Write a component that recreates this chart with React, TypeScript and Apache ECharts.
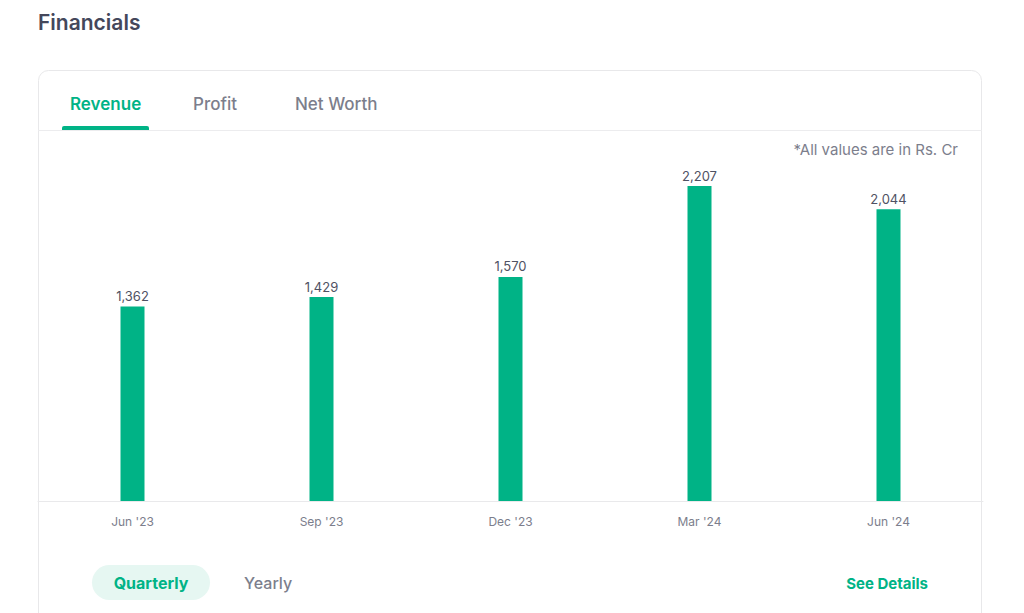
import React, { useEffect, useRef } from "react";
import * as echarts from "echarts";

const categories = ["Jun '23", "Sep '23", "Dec '23", "Mar '24", "Jun '24"];
const revenue = [1362, 1429, 1570, 2207, 2044];
const tabs = ["Revenue", "Profit", "Net Worth"];
const periods = ["Quarterly", "Yearly"];

const GREEN = "#00b386";
const DARK = "#44475b";
const GRAY = "#7c7e8c";
const FONT = "Inter, 'Noto Sans', sans-serif";

export default function App() {
  const ref = useRef<HTMLDivElement>(null);
  useEffect(() => {
    if (!ref.current) return;
    const chart = echarts.init(ref.current, undefined, { renderer: "svg" });
    chart.setOption({
      animation: false,
      backgroundColor: "#ffffff",
      textStyle: { fontFamily: FONT },
      grid: { left: 38, right: 41, top: 186, bottom: 112, containLabel: false },
      xAxis: {
        type: "category",
        data: categories,
        axisLine: { lineStyle: { color: "#e9e9eb", width: 1 } },
        axisTick: { show: false },
        axisLabel: { color: GRAY, fontSize: 12, margin: 14, fontFamily: FONT },
      },
      yAxis: {
        type: "value",
        min: 0,
        max: "dataMax",
        show: false,
        splitLine: { show: false },
      },
      series: [
        {
          type: "bar",
          data: revenue,
          barWidth: 24,
          itemStyle: { color: GREEN },
          label: {
            show: true,
            position: "top",
            distance: 4,
            color: "#4f5263",
            fontSize: 13,
            fontFamily: FONT,
            formatter: (p: any) => Number(p.value).toLocaleString("en-US"),
          },
        },
      ],
      graphic: [
        {
          type: "rect",
          z: -10,
          silent: true,
          shape: { x: 38.5, y: 70.5, width: 943, height: 600, r: 10 },
          style: { fill: "#ffffff", stroke: "#e8e8ea", lineWidth: 1 },
        },
        {
          type: "text",
          left: 38,
          top: 12,
          style: { text: "Financials", fontSize: 21, fontWeight: 600, fill: DARK, fontFamily: FONT },
        },
        {
          type: "text",
          left: 70,
          top: 95,
          style: { text: tabs[0], fontSize: 17, fontWeight: 600, fill: GREEN, fontFamily: FONT },
        },
        {
          type: "text",
          left: 193,
          top: 95,
          style: { text: tabs[1], fontSize: 17, fontWeight: 500, fill: GRAY, fontFamily: FONT },
        },
        {
          type: "text",
          left: 295,
          top: 95,
          style: { text: tabs[2], fontSize: 17, fontWeight: 500, fill: GRAY, fontFamily: FONT },
        },
        {
          type: "rect",
          shape: { x: 62, y: 126, width: 87, height: 4, r: [2, 2, 0, 0] },
          style: { fill: GREEN },
        },
        {
          type: "line",
          shape: { x1: 38, y1: 130.5, x2: 982, y2: 130.5 },
          style: { stroke: "#ececee", lineWidth: 1 },
        },
        {
          type: "text",
          right: 66,
          top: 142,
          style: { text: "*All values are in Rs. Cr", fontSize: 15, fill: GRAY, fontFamily: FONT },
        },
        {
          type: "rect",
          shape: { x: 92, y: 565, width: 118, height: 35, r: 17.5 },
          style: { fill: "#e6f7f2" },
        },
        {
          type: "text",
          x: 151,
          y: 582.5,
          style: {
            text: periods[0],
            fontSize: 16,
            fontWeight: 700,
            fill: GREEN,
            fontFamily: FONT,
            align: "center",
            verticalAlign: "middle",
          },
        },
        {
          type: "text",
          x: 244,
          y: 582.5,
          style: {
            text: periods[1],
            fontSize: 16,
            fontWeight: 500,
            fill: GRAY,
            fontFamily: FONT,
            verticalAlign: "middle",
          },
        },
        {
          type: "text",
          x: 928,
          y: 583,
          style: {
            text: "See Details",
            fontSize: 15,
            fontWeight: 700,
            fill: GREEN,
            fontFamily: FONT,
            align: "right",
            verticalAlign: "middle",
          },
        },
      ],
    });
    return () => chart.dispose();
  }, []);
  return (
    <div
      ref={ref}
      style={{ position: "fixed", left: 0, top: 0, width: 1024, height: 613 }}
    />
  );
}
